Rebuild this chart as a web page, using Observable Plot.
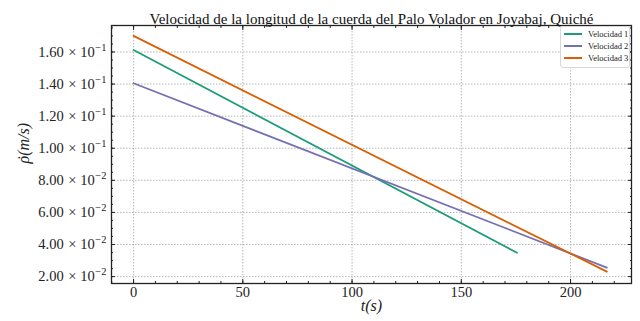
<!DOCTYPE html>
<html><head><meta charset="utf-8">
<script src="https://cdn.jsdelivr.net/npm/d3@7"></script>
<script src="https://cdn.jsdelivr.net/npm/@observablehq/plot@0.6"></script>
<style>
body{margin:0;background:#fff}
#wrap{position:relative;width:640px;height:321px;font-family:"Liberation Serif",serif}
#wrap svg text{font-family:"Liberation Serif",serif}
#legend{position:absolute;left:560px;top:26px;width:68px;height:40px;border:1px solid #d8d8d8;border-radius:3px;background:#fff;font-size:8.5px;color:#222}
#legend .it{position:absolute;left:3px;height:10px;display:flex;align-items:center}
#legend .sw{width:18px;height:2px;margin-right:6px}
</style></head>
<body><div id="wrap"><div id="legend"></div></div>
<script>
const seriesNames = ["Velocidad 1", "Velocidad 2", "Velocidad 3"];
const seriesColors = ["#1b9e77", "#7570b3", "#d95f02"];
const t1 = [0, 175.5];
const v1 = [0.1612, 0.0349];
const t2 = [0, 216.6];
const v2 = [0.1405, 0.0256];
const t3 = [0, 216.6];
const v3 = [0.1700, 0.0231];
const xTicks = [0, 50, 100, 150, 200];
const yTicks = [0.02, 0.04, 0.06, 0.08, 0.10, 0.12, 0.14, 0.16];
const xMinor = d3.range(-10, 230, 10);
const yMinor = d3.range(4, 36).map(i => i * 0.005);
const title = "Velocidad de la longitud de la cuerda del Palo Volador en Joyabaj, Quiché";
const xLabel = "t(s)";
const yLabel = "ρ̇(m/s)";

const rows = [];
[[t1, v1], [t2, v2], [t3, v3]].forEach(([ts, vs], i) => ts.forEach((t, j) => rows.push({series: seriesNames[i], t, v: vs[j]})));

function sci(n) {
  const e = Math.floor(Math.log10(n) + 1e-9);
  const m = n / Math.pow(10, e);
  return `${m.toFixed(2)}|×|10|${String(e).replace("-", "−")}`;
}

const ink = "#222";
const serif = "Liberation Serif, serif";
const chart = Plot.plot({
  width: 640, height: 321,
  marginLeft: 111, marginRight: 9, marginTop: 25, marginBottom: 38,
  style: {fontFamily: serif, fontSize: "14px", background: "white", color: ink},
  x: {domain: [-10.1, 227.9]},
  y: {domain: [0.0157, 0.1765]},
  color: {domain: seriesNames, range: seriesColors},
  marks: [
    Plot.gridX(xTicks, {stroke: "#9a9a9a", strokeOpacity: 1, strokeWidth: 0.7, strokeDasharray: "1.5,1.5"}),
    Plot.gridY(yTicks, {stroke: "#9a9a9a", strokeOpacity: 1, strokeWidth: 0.7, strokeDasharray: "1.5,1.5"}),
    Plot.line(rows, {x: "t", y: "v", z: "series", stroke: "series", strokeWidth: 1.8}),
    Plot.axisX(xTicks, {anchor: "bottom", tickSize: -4, tickFormat: () => "", label: null, stroke: ink}),
    Plot.axisX(xTicks, {anchor: "top", tickSize: -4, tickFormat: () => "", label: null, stroke: ink}),
    Plot.axisX(xMinor, {anchor: "bottom", tickSize: -2, tickFormat: () => "", label: null, stroke: ink}),
    Plot.axisX(xMinor, {anchor: "top", tickSize: -2, tickFormat: () => "", label: null, stroke: ink}),
    Plot.axisY(yTicks, {anchor: "left", tickSize: -4, tickFormat: () => "", label: null, stroke: ink}),
    Plot.axisY(yTicks, {anchor: "right", tickSize: -4, tickFormat: () => "", label: null, stroke: ink}),
    Plot.axisY(yMinor, {anchor: "left", tickSize: -2, tickFormat: () => "", label: null, stroke: ink}),
    Plot.axisY(yMinor, {anchor: "right", tickSize: -2, tickFormat: () => "", label: null, stroke: ink}),
    Plot.axisX(xTicks, {anchor: "bottom", tickSize: 0, tickPadding: 3, label: null, fontSize: 14.5, fontFamily: serif, fill: ink}),
    Plot.axisY(yTicks, {anchor: "left", tickSize: 0, tickPadding: 5, tickFormat: sci, label: null, fontSize: 14.5, fontFamily: serif, fill: ink}),
    Plot.frame({stroke: ink, strokeWidth: 1.3}),
    Plot.text([title], {text: d => d, frameAnchor: "top", dy: -12.5, fontSize: 15, fontFamily: serif, fill: "#111"}),
    Plot.text([xLabel], {text: d => d, frameAnchor: "bottom", dy: 27, fontSize: 16, fontFamily: serif, fontStyle: "italic", fill: ink}),
    Plot.text([yLabel], {text: d => d, frameAnchor: "left", dx: -88, dy: 9, rotate: -90, fontSize: 16, fontFamily: serif, fontStyle: "italic", fill: ink})
  ]
});
document.getElementById("wrap").prepend(chart);

const NS = "http://www.w3.org/2000/svg";
function tspan(parent, txt, attrs = {}) {
  const t = document.createElementNS(NS, "tspan");
  t.textContent = txt;
  for (const k in attrs) t.setAttribute(k, attrs[k]);
  parent.appendChild(t);
  return t;
}
// y tick labels: mantissa × 10 with a raised, smaller exponent
chart.querySelectorAll("text").forEach(el => {
  const s = el.textContent;
  if (!s.includes("|")) return;
  const [m, times, ten, exp] = s.split("|");
  el.textContent = "";
  tspan(el, m);
  tspan(el, times, {dx: "4.5"});
  tspan(el, ten, {dx: "4"});
  tspan(el, exp, {dy: "-6", "font-size": "10.5", dx: "0.5"});
});
// y label: draw the dot of ρ̇ as a spacing dot placed over the ρ
chart.querySelectorAll("text").forEach(el => {
  if (el.textContent !== yLabel) return;
  el.textContent = "";
  const r = tspan(el, "ρ");
  const wr = r.getComputedTextLength();
  const d = tspan(el, "˙");
  const wd = d.getComputedTextLength();
  d.setAttribute("dx", (-(wr + wd) / 2 + 1).toFixed(2));
  tspan(el, "(m/s)", {dx: ((wr - wd) / 2 - 1).toFixed(2)});
});

const legend = document.getElementById("legend");
seriesNames.forEach((name, i) => {
  const it = document.createElement("div");
  it.className = "it";
  it.style.top = (2 + i * 12) + "px";
  it.innerHTML = `<span class="sw" style="background:${seriesColors[i]}"></span><span>${name}</span>`;
  legend.appendChild(it);
});
</script>
</body></html>
